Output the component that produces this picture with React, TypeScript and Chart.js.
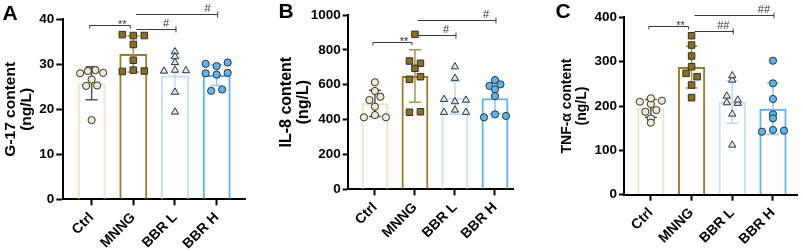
import React, { useEffect, useRef } from 'react';
import { Chart, registerables } from 'chart.js';

Chart.register(...registerables);

// ---------- data ----------
const categories = ['Ctrl', 'MNNG', 'BBR L', 'BBR H'];

// Panel A: G-17 (ng/L)
const g17Ctrl = [28.0, 28.5, 28.7, 28.1, 26.6, 25.2, 25.3, 17.6];
const g17Mnng = [36.6, 36.4, 36.4, 34.4, 30.9, 28.4, 28.7, 28.5];
const g17BbrL = [32.8, 31.7, 30.4, 28.5, 28.7, 28.6, 23.8, 19.4];
const g17BbrH = [30.1, 29.6, 30.4, 28.0, 27.7, 28.1, 24.1, 24.4];
const g17Mean = [25.8, 32.3, 27.5, 27.6];
const g17Sd = [3.65, 4.0, 4.0, 2.3];
const g17Ticks = [0, 10, 20, 30, 40];
const g17Levels = [38.7, 37.9, 41.2];
const g17Marks = ['**', '#', '#'];

// Panel B: IL-8 (ng/L)
const il8Ctrl = [614, 512, 564, 531, 474, 413, 426, 413];
const il8Mnng = [889, 736, 723, 694, 631, 646, 442, 445];
const il8BbrL = [703, 637, 516, 503, 512, 442, 455, 442];
const il8BbrH = [593, 602, 627, 574, 535, 413, 430, 421];
const il8Mean = [493, 650, 525, 522];
const il8Sd = [75, 150, 95, 89];
const il8Ticks = [0, 200, 400, 600, 800, 1000];
const il8Levels = [843, 885, 971];
const il8Marks = ['**', '#', '#'];

// Panel C: TNF-α (ng/L)
const tnfCtrl = [204.6, 209.8, 217.5, 212.0, 187.0, 191.0, 172.0, 162.4];
const tnfMnng = [358.7, 337.7, 312.9, 288.7, 273.8, 266.2, 247.5, 218.9];
const tnfBbrL = [258.7, 268.5, 222.6, 207.6, 206.2, 213.6, 182.0, 112.0];
const tnfBbrH = [302.3, 251.3, 215.9, 181.4, 172.3, 142.1, 146.0, 144.4];
const tnfMean = [195, 288, 209, 194];
const tnfSd = [20, 47, 48, 58];
const tnfTicks = [0, 100, 200, 300, 400];
const tnfLevels = [380.6, 370, 405];
const tnfMarks = ['**', '##', '##'];

// comparisons (group indices)
const bracketFrom = [0, 1, 1];
const bracketTo = [1, 2, 3];

// ---------- styles ----------
const FONT = '"Liberation Sans", Arial, Helvetica, sans-serif';
const barBorder = ['#EDE4C7', '#9A7D2C', '#C4E2F9', '#5CB3EF'];
const pointFill = ['#F3E9CD', '#8C6E1F', '#D6ECFA', '#5BB5EE'];
const pointShape = ['circle', 'rect', 'triangle', 'circle'];
const pointSize = [3.6, 4.6, 4.2, 3.6];
const errColor = ['#555555', '#A8944F', '#BADCF7', '#8CC8F2'];

type PanelSpec = {
  letter: string;
  title: string[];
  titleSize: number;
  groups: number[][];
  mean: number[];
  sd: number[];
  ticks: number[];
  levels: number[];
  marks: string[];
  left: number;
  width: number;
  top: number;
  yAxisW: number;
  xAxisH: number;
  rightPad: number;
  xMin: number;
  xMax: number;
  titlePad: number;
  yTickLen: number;
  letterY: number;
};

const panels: PanelSpec[] = [
  {
    letter: 'A', title: ['G-17 content', '(ng/L)'], titleSize: 15.5,
    groups: [g17Ctrl, g17Mnng, g17BbrL, g17BbrH], mean: g17Mean, sd: g17Sd,
    ticks: g17Ticks, levels: g17Levels, marks: g17Marks,
    left: 0, width: 276, top: 19.3, yAxisW: 63.3, xAxisH: 51.7, rightPad: 31,
    xMin: -0.68, xMax: 3.68, titlePad: 2.6, yTickLen: 7, letterY: 20,
  },
  {
    letter: 'B', title: ['IL-8 content', '(ng/L)'], titleSize: 16,
    groups: [il8Ctrl, il8Mnng, il8BbrL, il8BbrH], mean: il8Mean, sd: il8Sd,
    ticks: il8Ticks, levels: il8Levels, marks: il8Marks,
    left: 276, width: 277, top: 15, yAxisW: 71.7, xAxisH: 61.7, rightPad: 40,
    xMin: -0.68, xMax: 3.45, titlePad: 2, yTickLen: 5, letterY: 18,
  },
  {
    letter: 'C', title: ['TNF-α content', '(ng/L)'], titleSize: 14,
    groups: [tnfCtrl, tnfMnng, tnfBbrL, tnfBbrH], mean: tnfMean, sd: tnfSd,
    ticks: tnfTicks, levels: tnfLevels, marks: tnfMarks,
    left: 553, width: 250, top: 17.4, yAxisW: 71, xAxisH: 56.3, rightPad: 5,
    xMin: -0.66, xMax: 3.6, titlePad: 7, yTickLen: 5, letterY: 18,
  },
];

// ---------- plugins ----------
const swarmPlugin = {
  id: 'swarm',
  afterDatasetsUpdate(chart: any) {
    chart.data.datasets.forEach((ds: any, di: number) => {
      if (ds.type !== 'scatter') return;
      const meta = chart.getDatasetMeta(di);
      const pts = meta.data.map((el: any, i: number) => ({ el, i, y: el.y }));
      const sorted = [...pts].sort((a, b) => a.y - b.y);
      const rows: any[][] = [];
      for (const p of sorted) {
        const row = rows[rows.length - 1];
        if (row && Math.abs(p.y - row[0].y) <= 4) row.push(p);
        else rows.push([p]);
      }
      for (const row of rows) {
        row.sort((a, b) => a.i - b.i);
        const k = row.length;
        const step = k <= 3 ? 11 : 23 / (k - 1);
        row.forEach((p, j) => {
          p.el.x = p.el.x + (j - (k - 1) / 2) * step;
        });
      }
    });
  },
};

function makeOverlay(spec: PanelSpec) {
  return {
    id: 'overlay' + spec.letter,
    afterDatasetDraw(chart: any, args: any) {
      if (args.index !== 0) return;
      const { ctx } = chart;
      const xs = chart.scales.x;
      const ys = chart.scales.y;
      spec.mean.forEach((m, i) => {
        const cx = xs.getPixelForValue(i);
        const top = ys.getPixelForValue(m + spec.sd[i]);
        const bot = ys.getPixelForValue(m - spec.sd[i]);
        ctx.save();
        ctx.strokeStyle = errColor[i];
        ctx.lineWidth = 1.5;
        ctx.beginPath();
        ctx.moveTo(cx, top);
        ctx.lineTo(cx, bot);
        ctx.moveTo(cx - 6, top);
        ctx.lineTo(cx + 6, top);
        ctx.moveTo(cx - 6, bot);
        ctx.lineTo(cx + 6, bot);
        ctx.stroke();
        ctx.restore();
      });
    },
    afterDraw(chart: any) {
      const { ctx } = chart;
      const xs = chart.scales.x;
      const ys = chart.scales.y;
      ctx.save();
      ctx.strokeStyle = '#3a3a3a';
      ctx.fillStyle = '#333333';
      ctx.lineWidth = 1;
      ctx.font = `11px ${FONT}`;
      ctx.textAlign = 'center';
      ctx.textBaseline = 'alphabetic';
      bracketFrom.forEach((f, k) => {
        const t = bracketTo[k];
        const y = Math.round(ys.getPixelForValue(spec.levels[k])) + 0.5;
        ctx.beginPath();
        let xr: number;
        if (f === 0) {
          const xl = xs.getPixelForValue(f) - 2;
          xr = xs.getPixelForValue(t) - 3;
          ctx.moveTo(xl, y + 3);
          ctx.lineTo(xl, y);
          ctx.lineTo(xr, y);
          ctx.lineTo(xr, y + 3);
          ctx.stroke();
          ctx.fillText(spec.marks[k], xr - 8, y + 2.7);
        } else {
          const xl = xs.getPixelForValue(f) + 3;
          xr = xs.getPixelForValue(t) + 1;
          ctx.moveTo(xl, y);
          ctx.lineTo(xr, y);
          ctx.moveTo(xr, y - 3);
          ctx.lineTo(xr, y + 3);
          ctx.stroke();
          ctx.fillText(spec.marks[k], xr - 10, y - 2.5);
        }
      });
      ctx.fillStyle = '#000';
      ctx.font = `bold 21px ${FONT}`;
      ctx.textAlign = 'left';
      ctx.fillText(spec.letter, 2.5, spec.letterY);
      ctx.restore();
    },
  };
}

function buildConfig(spec: PanelSpec): any {
  const yTickFont = { family: FONT, size: 13.5, weight: 'bold' as const };
  const xTickFont = { family: FONT, size: 14, weight: 'bold' as const };
  return {
    type: 'bar',
    data: {
      datasets: [
        {
          type: 'bar',
          data: spec.mean.map((m, i) => ({ x: i, y: m })),
          backgroundColor: 'rgba(255,255,255,0)',
          borderColor: barBorder,
          borderWidth: 2,
          borderSkipped: 'start',
          barPercentage: 0.67,
          categoryPercentage: 1,
          order: 2,
        },
        ...spec.groups.map((vals, g) => ({
          type: 'scatter',
          data: vals.map((v) => ({ x: g, y: v })),
          pointStyle: pointShape[g],
          pointRadius: pointSize[g],
          pointHoverRadius: pointSize[g],
          pointBackgroundColor: pointFill[g],
          pointBorderColor: '#2f2f2f',
          pointBorderWidth: 1,
          showLine: false,
          order: 1,
        })),
      ],
    },
    options: {
      animation: false,
      responsive: false,
      events: [],
      layout: { padding: { top: spec.top, right: spec.rightPad, left: 0, bottom: 0 } },
      plugins: { legend: { display: false }, tooltip: { enabled: false }, title: { display: false } },
      scales: {
        x: {
          type: 'linear',
          min: spec.xMin,
          max: spec.xMax,
          offset: false,
          afterBuildTicks: (s: any) => {
            s.ticks = categories.map((_, i) => ({ value: i }));
          },
          afterFit: (s: any) => {
            s.height = spec.xAxisH;
            s.paddingLeft = 0;
            s.paddingRight = 0;
          },
          ticks: {
            callback: (v: number) => categories[v],
            minRotation: 45,
            maxRotation: 45,
            autoSkip: false,
            font: xTickFont,
            color: '#000',
            padding: 4,
          },
          grid: { drawOnChartArea: false, drawTicks: true, tickLength: 6, tickColor: '#000', tickWidth: 2, offset: false },
          border: { display: true, color: '#000', width: 2 },
        },
        y: {
          min: 0,
          max: spec.ticks[spec.ticks.length - 1],
          afterBuildTicks: (s: any) => {
            s.ticks = spec.ticks.map((v) => ({ value: v }));
          },
          afterFit: (s: any) => {
            s.width = spec.yAxisW;
            s.paddingTop = 0;
            s.paddingBottom = 0;
          },
          ticks: { font: yTickFont, color: '#000', padding: 2, callback: (v: number) => String(v) },
          grid: { drawOnChartArea: false, drawTicks: true, tickLength: spec.yTickLen, tickColor: '#000', tickWidth: 2 },
          border: { display: true, color: '#000', width: 2 },
          title: {
            display: true,
            text: spec.title,
            color: '#000',
            font: { family: FONT, size: spec.titleSize, weight: 'bold', lineHeight: 1.05 },
            padding: { top: spec.titlePad, bottom: 0 },
          },
        },
      },
    },
    plugins: [swarmPlugin, makeOverlay(spec)],
  };
}

function Panel({ spec }: { spec: PanelSpec }) {
  const ref = useRef<HTMLCanvasElement>(null);
  useEffect(() => {
    if (!ref.current) return;
    const chart = new Chart(ref.current, buildConfig(spec));
    return () => chart.destroy();
  }, [spec]);
  return (
    <canvas
      ref={ref}
      width={spec.width}
      height={251}
      style={{ position: 'absolute', left: spec.left, top: 0, width: spec.width, height: 251 }}
    />
  );
}

export default function App() {
  return (
    <div style={{ position: 'fixed', left: 0, top: 0, width: 803, height: 251, background: '#fff', overflow: 'hidden' }}>
      {panels.map((p) => (
        <Panel key={p.letter} spec={p} />
      ))}
    </div>
  );
}
